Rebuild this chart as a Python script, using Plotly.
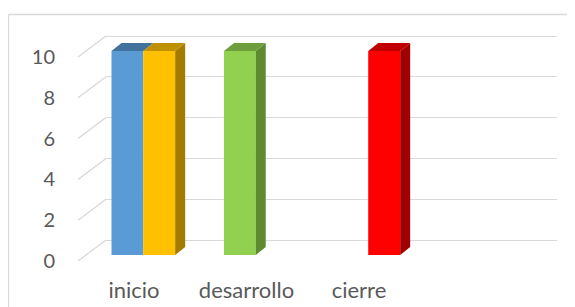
import plotly.graph_objects as go

categories = ["inicio", "desarrollo", "cierre"]
serie1_values = [10, 10, 0]
serie2_values = [10, 0, 10]
serie1_colors = ["#5B9BD5", "#92D050", "#5B9BD5"]
serie2_colors = ["#FFC000", "#FFC000", "#FF0000"]
serie1_top = ["#41719C", "#6E9E3C", "#41719C"]
serie2_top = ["#BF9000", "#BF9000", "#C00000"]
serie1_side = ["#3F6E99", "#5E8A32", "#3F6E99"]
serie2_side = ["#A47A00", "#A47A00", "#A00000"]
y_ticks = [0, 2, 4, 6, 8, 10]

OFF = 8  # page body margin of the browser
W, H = 575 - OFF, 307 - OFF
L, R, T, B = 78 - OFF, 557 - OFF, 30 - OFF, 261 - OFF
PW, PH = R - L, B - T
SCALE = 20.4            # px per value unit
CAT_PX = 112.5          # px per category
CAT0 = 134 - OFF        # px of first category centre
DX_PX, DY_PX = 10, 8    # bar depth
WALL_DX, WALL_DY = 28, 21
BAR_ZERO = 255 - OFF
WALL_ZERO = 240 - OFF

def px_to_paper_x(px):
    return (px - L) / PW

def px_to_paper_y(py):
    return (B - py) / PH

x2_range = [(L - CAT0) / CAT_PX, (R - CAT0) / CAT_PX]
y2_range = [(BAR_ZERO - B) / SCALE, (BAR_ZERO - T) / SCALE]
y_range = [(WALL_ZERO - B) / SCALE, (WALL_ZERO - T) / SCALE]

dx = DX_PX / CAT_PX
dy = DY_PX / SCALE

fig = go.Figure()

# invisible trace to create the back-wall subplot (gridlines)
fig.add_trace(go.Scatter(x=[0], y=[0], xaxis="x", yaxis="y", mode="markers",
                         marker=dict(opacity=0), hoverinfo="skip", showlegend=False))

slots = [(-0.2, 0.282), (0.082, 0.284)]
series = [
    (serie1_values, serie1_colors, serie1_top, serie1_side, slots[0], serie2_values),
    (serie2_values, serie2_colors, serie2_top, serie2_side, slots[1], None),
]

# side and top faces
for vals, cols, tops, sides, (off, wid), right_neighbour in series:
    for i, v in enumerate(vals):
        if v <= 0:
            continue
        x0 = i + off
        x1 = x0 + wid
        hidden = right_neighbour is not None and right_neighbour[i] > 0
        if not hidden:
            fig.add_trace(go.Scatter(
                x=[x1, x1 + dx, x1 + dx, x1, x1], y=[0, dy, v + dy, v, 0],
                xaxis="x2", yaxis="y2", mode="lines", fill="toself",
                fillcolor=sides[i], line=dict(width=0), hoverinfo="skip", showlegend=False))
        fig.add_trace(go.Scatter(
            x=[x0, x1, x1 + dx, x0 + dx, x0], y=[v, v, v + dy, v + dy, v],
            xaxis="x2", yaxis="y2", mode="lines", fill="toself",
            fillcolor=tops[i], line=dict(width=0), hoverinfo="skip", showlegend=False))

# front faces
for vals, cols, tops, sides, (off, wid), _ in series:
    fig.add_trace(go.Bar(
        x=list(range(len(categories))), y=vals, offset=off, width=wid,
        marker=dict(color=cols, line=dict(width=0)),
        xaxis="x2", yaxis="y2", showlegend=False))

shapes = []
# side wall diagonal gridlines
for v in y_ticks:
    shapes.append(dict(type="line", xref="paper", yref="y",
                       x0=0, y0=v - WALL_DY / SCALE,
                       x1=px_to_paper_x(L + WALL_DX), y1=v,
                       line=dict(color="#D9D9D9", width=1.3), layer="below"))
# chart border
shapes.append(dict(type="line", xref="paper", yref="paper",
                   x0=px_to_paper_x(0.5), y0=px_to_paper_y(14.5 - OFF),
                   x1=px_to_paper_x(W), y1=px_to_paper_y(14.5 - OFF),
                   line=dict(color="#D9D9D9", width=1.3), layer="below"))
shapes.append(dict(type="line", xref="paper", yref="paper",
                   x0=px_to_paper_x(0.5), y0=px_to_paper_y(14.5 - OFF),
                   x1=px_to_paper_x(0.5), y1=px_to_paper_y(H),
                   line=dict(color="#D9D9D9", width=1.3), layer="below"))

font_family = "Lato, Carlito, Calibri, sans-serif"

fig.update_layout(
    width=W, height=H,
    margin=dict(l=L, r=W - R, t=T, b=H - B, pad=0),
    paper_bgcolor="white", plot_bgcolor="rgba(0,0,0,0)",
    template="none",
    showlegend=False,
    barmode="overlay",
    font=dict(family=font_family, color="#595959", size=20),
    xaxis=dict(domain=[px_to_paper_x(L + WALL_DX), 1], range=[0, 1],
               showgrid=False, showticklabels=False, zeroline=False,
               showline=False, ticks="", fixedrange=True),
    yaxis=dict(range=y_range, tickvals=y_ticks, showticklabels=False,
               showgrid=True, gridcolor="#D9D9D9", gridwidth=1.3,
               zeroline=False, showline=False, ticks="", fixedrange=True),
    xaxis2=dict(domain=[0, 1], range=x2_range, anchor="y2",
                tickvals=list(range(len(categories))), ticktext=categories,
                showgrid=False, zeroline=False, showline=False, ticks="",
                ticklabelstandoff=14,
                tickfont=dict(family=font_family, size=22, color="#595959"),
                fixedrange=True),
    yaxis2=dict(domain=[0, 1], range=y2_range, anchor="x2",
                tickvals=y_ticks, showgrid=False, zeroline=False,
                showline=False, ticks="", ticklabelshift=6,
                ticklabelstandoff=22,
                tickfont=dict(family=font_family, size=20, color="#595959"),
                fixedrange=True),
    shapes=shapes,
)

fig.write_html("out.html")
